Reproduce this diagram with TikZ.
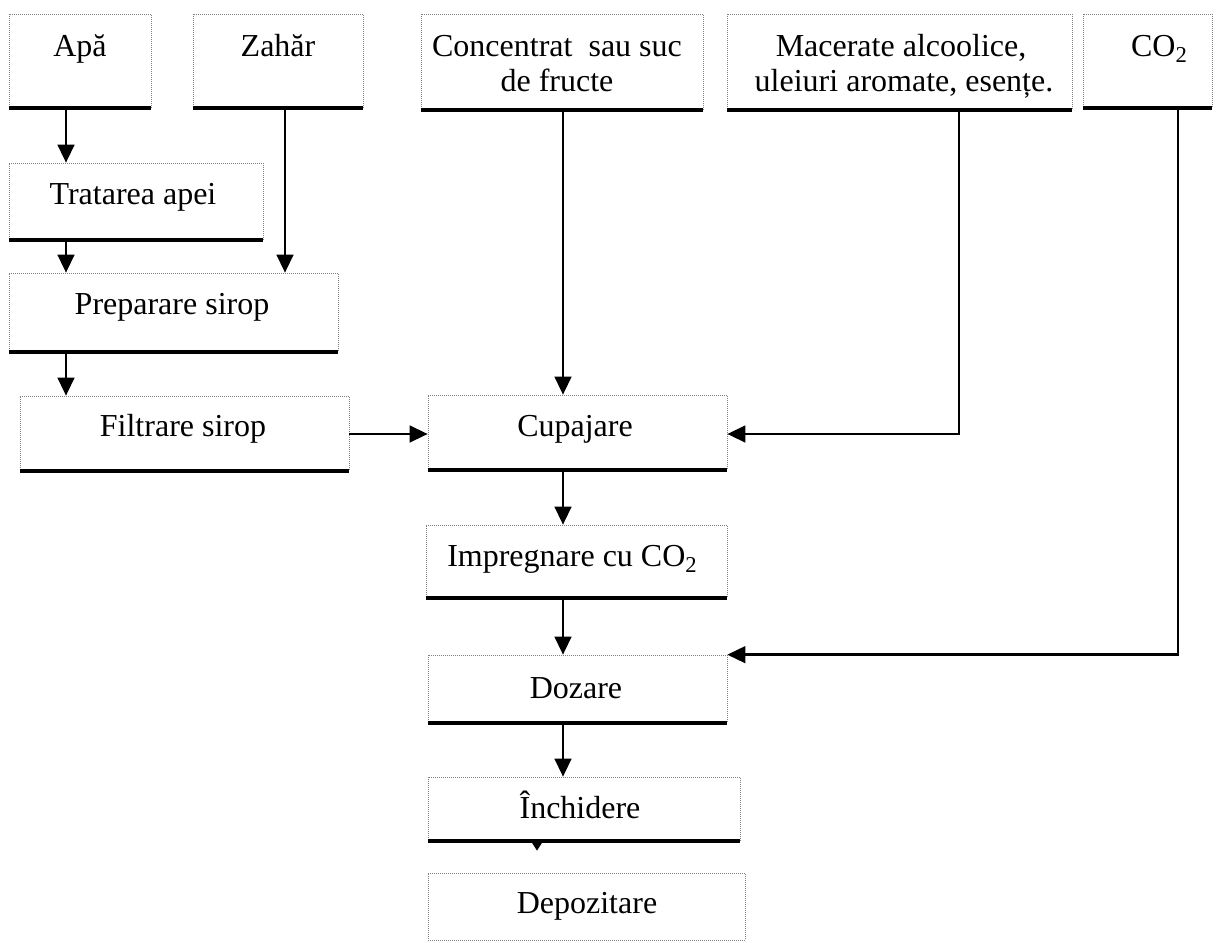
\documentclass[tikz,border=0pt]{standalone}
\usepackage{fontspec}
\setmainfont{Liberation Serif}
\usetikzlibrary{fit,arrows.meta}
\begin{document}
\begin{tikzpicture}[x=0.75pt,y=-0.75pt,
  box/.style={draw=black!50, densely dotted, line width=0.5pt, inner sep=0pt},
  bot/.style={line width=3.2pt},
  txt/.style={font=\fontsize{24}{26.25}\selectfont, inner sep=0pt, anchor=base, align=center},
  arr/.style={line width=1.8pt, -{Triangle[length=13.5pt,width=12.5pt]}},
  smallarr/.style={line width=1pt, -{Triangle[length=6.5pt,width=8pt]}},
]
\useasboundingbox (0,0) rectangle (1216,942);

% boxes
\node[box, fit={(9,14) (151,108)}] (apa) {};
\node[box, fit={(193,14) (363,108)}] (zahar) {};
\node[box, fit={(421,14) (703,110)}] (conc) {};
\node[box, fit={(727,14) (1072,110)}] (mac) {};
\node[box, fit={(1083,14) (1212,108)}] (co2) {};
\node[box, fit={(9,163) (263,240)}] (trat) {};
\node[box, fit={(9,273) (338,352)}] (prep) {};
\node[box, fit={(20,396) (349,471)}] (filt) {};
\node[box, fit={(428,395) (727,470)}] (cup) {};
\node[box, fit={(426,525) (727,598)}] (imp) {};
\node[box, fit={(428,655) (727,723)}] (doz) {};
\node[box, fit={(428,777) (740,841)}] (inch) {};
\node[box, fit={(428,873) (745,940)}] (dep) {};

% thick bottom edges
\foreach \n in {apa,zahar,conc,mac,co2,trat,prep,filt,cup,imp,doz,inch}
  \draw[bot] (\n.south west) -- (\n.south east);

% texts
\node[txt] (apa-t) at (80,56) {Apă};
\node[txt] (zahar-t) at (278,56) {Zahăr};
\node[txt] (conc-t1) at (557,56) {Concentrat~ sau suc};
\node[txt] (conc-t2) at (557,91) {de fructe};
\node[txt] (mac-t1) at (901,56) {Macerate alcoolice,};
\node[txt] (mac-t2) at (904,91) {uleiuri aromate, esențe.};
\node[txt] (co2-t) at (1159,56) {CO\raisebox{-0.2em}{\fontsize{17}{17}\selectfont 2}};
\node[txt] (trat-t) at (133,204) {Tratarea apei};
\node[txt] (prep-t) at (172,314) {Preparare sirop};
\node[txt] (filt-t) at (183,436) {Filtrare sirop};
\node[txt] (cup-t) at (575,436) {Cupajare};
\node[txt] (imp-t) at (572,566) {Impregnare cu CO\raisebox{-0.2em}{\fontsize{17}{17}\selectfont 2}};
\node[txt] (doz-t) at (576,698) {Dozare};
\node[txt] (inch-t) at (580,818) {Închidere};
\node[txt] (dep-t) at (587,913) {Depozitare};

% column coordinates
\coordinate (c1) at (66,0);
\coordinate (c2) at (285,0);
\coordinate (c3) at (563,0);
\coordinate (c4) at (959,0);
\coordinate (c5) at (1178,0);
\coordinate (c6) at (537,0);
\coordinate (ry) at (0,434);

% connectors
\draw[arr] (c1 |- apa.south) -- (c1 |- trat.north);
\draw[arr] (c1 |- trat.south) -- (c1 |- prep.north);
\draw[arr] (c1 |- prep.south) -- (c1 |- filt.north);
\draw[arr] (c2 |- zahar.south) -- (c2 |- prep.north);
\draw[arr] (filt.east |- ry) -- (cup.west |- ry);
\draw[arr] (c3 |- conc.south) -- (c3 |- cup.north);
\draw[arr] (c4 |- mac.south) -- (c4 |- ry) -- (cup.east |- ry);
\draw[arr] (c3 |- cup.south) -- (c3 |- imp.north);
\draw[arr] (c3 |- imp.south) -- (c3 |- doz.north);
\draw[arr] (c5 |- co2.south) -- (c5 |- doz.north) -- (doz.north east);
\draw[arr] (c3 |- doz.south) -- (c3 |- inch.north);
\draw[smallarr] (c6 |- inch.south) -- ([yshift=-7pt]c6 |- inch.south);
\end{tikzpicture}
\end{document}
